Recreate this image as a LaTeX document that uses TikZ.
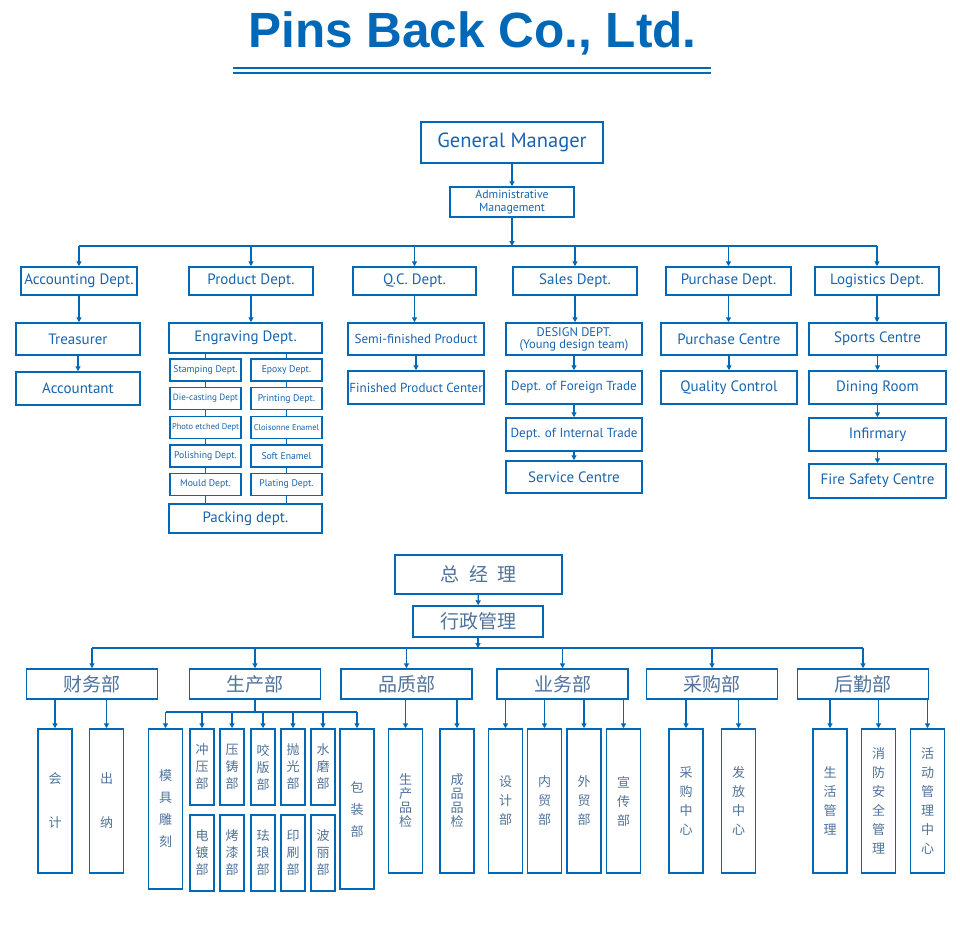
\documentclass[tikz,border=0pt]{standalone}
\usepackage{fontspec}
\setmainfont{PT Sans}
\newfontfamily\titlefont{Liberation Sans}
\newfontfamily\cjk{Noto Sans CJK SC}
\usetikzlibrary{arrows.meta}
\definecolor{orgblue}{RGB}{0,104,183}
\definecolor{orgtext}{RGB}{25,100,175}
\definecolor{orggrey}{RGB}{80,115,155}

\begin{document}
\begin{tikzpicture}[x=1pt, y=-1pt, >={Triangle[length=5pt,width=5pt]},
    box/.style={draw=orgblue, line width=1.5pt, fill=white, text=orgtext, inner sep=0pt,
        font=\fontsize{15}{17}\selectfont},
    narrow/.style={box, font=\fontsize{13.1}{15}\selectfont},
    sub/.style={box, line width=1.4pt, minimum width=71, minimum height=22,
        font=\fontsize{9.7}{10}\selectfont},
    cbox/.style={box, text=orggrey, font=\cjk\fontsize{19}{22}\selectfont},
    tall/.style={box, minimum width=34, minimum height=144, align=center, text=orggrey,
        font=\cjk\fontsize{13}{19}\selectfont},
    small/.style={tall, minimum width=24, minimum height=76, font=\cjk\fontsize{13}{17}\selectfont},
    link/.style={orgblue, line width=1.3pt}]
    \useasboundingbox (0,0) rectangle (960,935);

    % Title
    \node[font=\titlefont\bfseries\fontsize{49.5}{50}\selectfont, text=orgblue, anchor=base]
        (title) at (472.5,47) {Pins Back Co., Ltd.};
    \draw[orgblue, line width=1.8pt] (233,68) -- (711,68) (233,73) -- (711,73);

    % English chart
    \node[box, minimum width=182, minimum height=41, font=\fontsize{20.5}{22}\selectfont]
        (gm) at (512,142.5) {General Manager};
    \node[box, minimum width=124, minimum height=30, align=center, font=\fontsize{11.8}{12.5}\selectfont]
        (adm) at (512,202) {Administrative\\Management};
    \coordinate (tbus) at (512,246);

    \foreach \n/\x/\w/\t in {acc/79/116/Accounting Dept., prod/251/124/Product Dept.,
        qc/414.5/123/Q.C. Dept., sales/575/124/Sales Dept., pur/728.5/125/Purchase Dept.,
        log/877/124/Logistics Dept.}
        \node[box, minimum width=\w, minimum height=28] (\n) at (\x,281) {\t};

    \node[box, minimum width=124, minimum height=32] (tre) at (78,339) {Treasurer};
    \node[box, minimum width=124, minimum height=33] (acct) at (78,388.5) {Accountant};

    \node[box, minimum width=153, minimum height=30] (engr) at (245.5,338) {Engraving Dept.};
    \foreach \l/\r [count=\i] in {Stamping Dept./Epoxy Dept.,
        {\fontsize{9.1}{10}\selectfont Die-casting Dept}/Printing Dept.,
        {\fontsize{8.4}{10}\selectfont Photo etched Dept}/{\fontsize{8.5}{10}\selectfont Cloisonne Enamel},
        Polishing Dept./Soft Enamel, Mould Dept./Plating Dept.} {
        \node[sub] (l\i) at (205.5,341.5+28.6*\i) {\l};
        \node[sub] (r\i) at (286.5,341.5+28.6*\i) {\r};
    }
    \node[box, minimum width=153, minimum height=29] (pack) at (245.5,518.5) {Packing dept.};

    \node[narrow, minimum width=136, minimum height=32] (semi) at (416,339) {Semi-finished Product};
    \node[narrow, minimum width=136, minimum height=33] (fin) at (416,387.5) {Finished Product Center};

    \node[box, minimum width=136, minimum height=32, align=center, font=\fontsize{12.5}{12}\selectfont]
        (design) at (574,339) {DESIGN DEPT.\\(Young design team)};
    \node[narrow, minimum width=136, minimum height=33] (frn) at (574,387.5) {Dept. of Foreign Trade};
    \node[narrow, minimum width=136, minimum height=33] (intl) at (574,434.5) {Dept. of Internal Trade};
    \node[box, minimum width=136, minimum height=32] (serv) at (574,477) {Service Centre};

    \node[box, minimum width=136, minimum height=32] (pc) at (729,339) {Purchase Centre};
    \node[box, minimum width=136, minimum height=33] (qcon) at (729,387.5) {Quality Control};

    \node[box, minimum width=137, minimum height=32] (sport) at (877.5,339) {Sports Centre};
    \node[box, minimum width=137, minimum height=33] (dine) at (877.5,387.5) {Dining Room};
    \node[box, minimum width=137, minimum height=33] (inf) at (877.5,434.5) {Infirmary};
    \node[box, minimum width=137, minimum height=34] (fire) at (877.5,481) {Fire Safety Centre};

    % English connectors
    \draw[link,->] (gm) -- (adm);
    \draw[link,->] (adm) -- (tbus);
    \draw[link] (acc.north |- tbus) -- (log.north |- tbus);
    \foreach \n in {acc,prod,qc,sales,pur,log}
        \draw[link,->] (\n.north |- tbus) -- (\n.north);
    \foreach \a/\b in {acc/tre, tre/acct, prod/engr, qc/semi, semi/fin, sales/design, design/frn,
        frn/intl, intl/serv, pur/pc, pc/qcon, log/sport, sport/dine, dine/inf, inf/fire}
        \draw[link,->] (\a.south) -- (\a.south |- \b.north);
    \foreach \c in {l,r} {
        \draw[link] (\c1.north |- engr.south) -- (\c1.north);
        \foreach \p/\i in {1/2,2/3,3/4,4/5}
            \draw[link] (\c\p.south) -- (\c\i.north);
        \draw[link] (\c5.south) -- (\c5.south |- pack.north);
    }

    % Chinese chart
    \node[cbox, minimum width=167, minimum height=39] (zjl) at (478.5,574.5) {总\hspace{0.5em}经\hspace{0.5em}理};
    \node[cbox, minimum width=130, minimum height=31] (xz) at (478,621.5) {行政管理};
    \coordinate (bbus) at (478,648);

    \foreach \n/\x/\t in {cw/92/财务部, sc/255/生产部, pz/406.5/品质部, yw/562.5/业务部,
        cg/712/采购部, hq/863/后勤部}
        \node[cbox, minimum width=131, minimum height=30] (\n) at (\x,684) {\t};

    \node[tall] (kj) at (55,801) {会\\[25pt]计};
    \node[tall] (cn) at (106.5,801) {出\\[25pt]纳};

    \node[tall, minimum height=160, font=\cjk\fontsize{13}{22}\selectfont] (mj) at (165.5,809) {模\\具\\雕\\刻};
    \foreach \x/\a/\ta/\b/\tb in {202/cy/{冲\\压\\部}/dd/{电\\镀\\部}, 232/yz/{压\\铸\\部}/kq/{烤\\漆\\部},
        263/yb/{咬\\版\\部}/fl/{珐\\琅\\部}, 293/pg/{抛\\光\\部}/ys/{印\\刷\\部},
        323/sm/{水\\磨\\部}/bl/{波\\丽\\部}} {
        \node[small] (\a) at (\x,767) {\ta};
        \node[small] (\b) at (\x,853) {\tb};
    }
    \node[tall, minimum height=160, font=\cjk\fontsize{13}{22}\selectfont] (bz) at (357,809) {包\\装\\部};

    \node[tall, font=\cjk\fontsize{13}{14}\selectfont] (scpj) at (405.5,801) {生\\产\\品\\检};
    \node[tall, font=\cjk\fontsize{13}{14}\selectfont] (cppj) at (457,801) {成\\品\\品\\检};

    \node[tall] (sj) at (505.5,801) {设\\计\\部};
    \node[tall] (nm) at (544.5,801) {内\\贸\\部};
    \node[tall] (wm) at (584,801) {外\\贸\\部};
    \node[tall] (xc) at (623.5,801) {宣\\传\\部};

    \node[tall] (cgzx) at (686,801) {采\\购\\中\\心};
    \node[tall] (ffzx) at (738.5,801) {发\\放\\中\\心};

    \node[tall] (shgl) at (830,801) {生\\活\\管\\理};
    \node[tall] (xfaq) at (878.5,801) {消\\防\\安\\全\\管\\理};
    \node[tall] (hdgl) at (927.5,801) {活\\动\\管\\理\\中\\心};

    % Chinese connectors
    \draw[link,->] (zjl) -- (xz);
    \draw[link,->] (xz) -- (bbus);
    \draw[link] (cw.north |- bbus) -- (hq.north |- bbus);
    \foreach \n in {cw,sc,pz,yw,cg,hq}
        \draw[link,->] (\n.north |- bbus) -- (\n.north);
    \foreach \p/\c in {cw/kj, cw/cn, pz/scpj, pz/cppj, yw/sj, yw/nm, yw/wm, yw/xc,
        cg/cgzx, cg/ffzx, hq/shgl, hq/xfaq, hq/hdgl}
        \draw[link,->] (\c.north |- \p.south) -- (\c.north);
    \coordinate (scbus) at (255,712);
    \draw[link] (sc.south) -- (scbus);
    \draw[link] (mj.north |- scbus) -- (bz.north |- scbus);
    \foreach \c in {mj,cy,yz,yb,pg,sm,bz}
        \draw[link,->] (\c.north |- scbus) -- (\c.north);

\end{tikzpicture}
\end{document}
